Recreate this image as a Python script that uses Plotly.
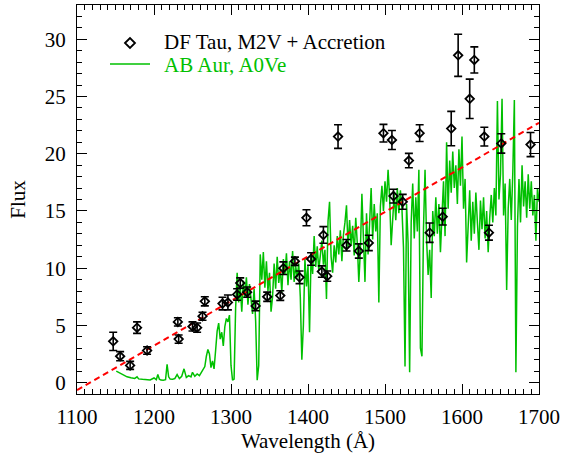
import numpy as np
import plotly.graph_objects as go

# DF Tau observed points
df_wave = [1147, 1156, 1169, 1178, 1191, 1231, 1232, 1250, 1256, 1263, 1266, 1289, 1296,
           1308, 1312, 1321, 1332, 1347, 1364, 1368, 1383, 1389, 1398, 1404, 1418, 1420,
           1425, 1439, 1450, 1466, 1479, 1498, 1509, 1511, 1523, 1531, 1545, 1558, 1575,
           1586, 1595, 1610, 1616, 1629, 1635, 1651, 1689]
df_flux = [3.6, 2.3, 1.5, 4.8, 2.8, 5.3, 3.8, 4.9, 4.8, 5.8, 7.1, 6.9, 7.0,
           7.7, 8.7, 7.9, 6.7, 7.5, 7.6, 10.0, 10.6, 9.2, 14.4, 10.8, 9.7, 12.9,
           9.3, 21.5, 12.0, 11.5, 12.2, 21.8, 21.2, 16.3, 15.8, 19.4, 21.8, 13.1, 14.5,
           22.2, 28.6, 24.8, 28.2, 21.5, 13.1, 20.9, 20.8]
df_err = [0.8, 0.4, 0.35, 0.5, 0.33, 0.36, 0.36, 0.4, 0.4, 0.35, 0.4, 0.55, 0.65,
          0.5, 0.45, 0.45, 0.42, 0.4, 0.42, 0.55, 0.36, 0.55, 0.7, 0.55, 0.5, 0.73,
          0.45, 1.03, 0.5, 0.62, 0.67, 0.77, 0.83, 0.6, 0.65, 0.63, 0.73, 0.85, 0.73,
          1.5, 1.84, 1.72, 1.14, 0.82, 0.65, 0.85, 1.05]

# AB Aur spectrum: smooth blue end
ab_wave_lo = [1151, 1155, 1160, 1165, 1170, 1175, 1178, 1180, 1185, 1190, 1195, 1200, 1203,
              1205, 1207, 1209, 1212, 1215, 1217, 1219, 1221, 1224, 1227, 1230, 1233, 1236,
              1239, 1242, 1245, 1248, 1250, 1253, 1256, 1259, 1261, 1263, 1266]
ab_flux_lo = [1.0, 0.85, 0.65, 0.5, 0.42, 0.36, 0.5, 0.32, 0.28, 0.25, 0.23, 0.4, 0.25,
              0.7, 0.3, 0.22, 0.2, 0.25, 1.6, 0.5, 0.3, 0.28, 0.35, 0.7, 0.35, 0.55,
              1.2, 0.45, 0.6, 0.5, 0.9, 0.55, 0.75, 0.6, 0.85, 1.0, 1.4]
# AB Aur spectrum: 2 A grid 1268-1700
ab_wave_hi = np.arange(1268, 1701, 2)
ab_flux_hi = [
    2.3, 2.9, 2.5, 1.3, 1.9, 1.2, 2.8, 4.5, 5.2, 3.8,
    4.4, 3.2, 4.9, 5.6, 5.3, 5.9, 1.5, 0.2, 0.3, 6.5,
    9.6, 7.0, 8.4, 6.2, 8.9, 7.4, 9.2, 6.8, 8.6, 7.1,
    6.0, 8.2, 5.4, 0.2, 1.5, 11.2, 9.0, 11.4, 8.3, 10.6,
    8.0, 9.6, 6.2, 7.5, 10.4, 8.2, 11.0, 8.7, 9.9, 7.9,
    10.8, 9.4, 11.3, 8.5, 10.6, 9.0, 11.5, 8.8, 10.2, 9.2,
    10.4, 7.5, 2.0, 5.0, 10.8, 8.4, 10.2, 4.4, 11.2, 9.5,
    12.8, 10.1, 11.9, 9.8, 11.0, 12.4, 10.3, 11.6, 7.3, 14.1,
    15.8, 11.0, 9.6, 12.0, 10.5, 12.8, 11.2, 13.3, 10.6, 12.9,
    14.0, 15.5, 11.8, 14.2, 12.0, 13.7, 11.1, 14.4, 12.2, 8.8,
    11.5, 16.5, 12.6, 8.8, 14.8, 11.2, 13.9, 17.0, 12.5, 15.6,
    13.2, 14.8, 7.0, 15.4, 17.2, 15.0, 17.6, 15.8, 18.6, 16.2,
    12.0, 14.0, 16.5, 14.2, 17.0, 14.8, 16.8, 15.2, 11.8, 1.4,
    15.6, 12.2, 0.9, 14.0, 17.4, 12.6, 16.2, 13.2, 18.6, 3.0,
    2.3, 13.5, 18.6, 12.5, 9.4, 11.6, 7.4, 15.0, 12.8, 16.2,
    13.0, 15.6, 11.4, 14.6, 17.6, 12.8, 21.0, 15.2, 19.4, 16.6,
    20.2, 17.0, 19.0, 15.6, 20.4, 17.2, 21.5, 15.2, 17.8, 10.5,
    14.6, 16.8, 12.4, 15.8, 13.0, 16.6, 14.0, 11.6, 15.9, 13.4,
    16.2, 12.6, 15.0, 11.4, 14.4, 16.4, 14.0, 17.0, 14.6, 24.6,
    16.0, 18.2, 24.8, 14.6, 17.4, 8.1, 15.2, 17.8, 14.2, 18.4,
    24.7, 0.9, 13.6, 17.8, 14.0, 19.0, 15.4, 17.6, 14.4, 18.2,
    15.2, 17.6, 14.6, 16.4, 12.4, 17.0, 15.8]

ab_wave = list(ab_wave_lo) + list(ab_wave_hi)
ab_flux = list(ab_flux_lo) + list(ab_flux_hi)

# linear fit (red dashed)
fit_wave = [1100, 1700]
fit_flux = [-0.66, 22.7]

legend_labels = ["DF Tau, M2V + Accretion", "AB Aur, A0Ve"]

GREEN = "rgb(0,192,0)"
FONT = "Liberation Serif, Times New Roman, DejaVu Serif, serif"

fig = go.Figure()
fig.add_trace(go.Scatter(
    x=ab_wave, y=ab_flux, mode="lines", showlegend=False,
    line=dict(color=GREEN, width=1.5),
))
fig.add_trace(go.Scatter(
    x=fit_wave, y=fit_flux, mode="lines", showlegend=False,
    line=dict(color="red", width=2, dash="6px,4px"),
))
fig.add_trace(go.Scatter(
    x=df_wave, y=df_flux, mode="markers", showlegend=False,
    marker=dict(symbol="diamond-open", size=6.5, color="black", line=dict(width=1.8, color="black")),
    error_y=dict(type="data", array=df_err, visible=True, color="black", thickness=1.6, width=4),
))

# custom legend (paper coordinates)
L, R, T, B = 77, 539, 5, 394
def px(xp):
    return (xp - L) / (R - L)
def py(yp):
    return (B - yp) / (B - T)

fig.add_shape(type="path", xref="paper", yref="paper",
              xsizemode="pixel", ysizemode="pixel",
              xanchor=px(130), yanchor=py(43),
              path="M -5 0 L 0 5 L 5 0 L 0 -5 Z",
              line=dict(color="black", width=1.8), fillcolor="rgba(0,0,0,0)")
fig.add_shape(type="line", xref="paper", yref="paper",
              x0=px(110), x1=px(150), y0=py(64), y1=py(64),
              line=dict(color=GREEN, width=1.5))
fig.add_annotation(text=legend_labels[0], xref="paper", yref="paper",
                   x=px(162), y=py(42), xanchor="left", yanchor="middle", showarrow=False,
                   font=dict(family=FONT, size=21, color="black"))
fig.add_annotation(text=legend_labels[1], xref="paper", yref="paper",
                   x=px(162), y=py(65), xanchor="left", yanchor="middle", showarrow=False,
                   font=dict(family=FONT, size=21, color=GREEN))

axis_common = dict(
    showline=True, linecolor="black", linewidth=1.2, mirror="allticks",
    ticks="inside", tickcolor="black", tickwidth=1.2, ticklen=10,
    showgrid=False, zeroline=False, automargin=False,
    tickfont=dict(family=FONT, size=21, color="black"),
)
fig.update_xaxes(
    range=[1100, 1700], dtick=100, tick0=1100,
    minor=dict(ticks="inside", ticklen=5, dtick=10, tickcolor="black", tickwidth=1),
    title=dict(text="Wavelength (Å)", font=dict(family=FONT, size=21, color="black"), standoff=2),
    ticklabelstandoff=4,
    **axis_common,
)
fig.update_yaxes(
    range=[-1, 33], dtick=5, tick0=0,
    minor=dict(ticks="inside", ticklen=5, dtick=1, tickcolor="black", tickwidth=1),
    title=dict(text="Flux", font=dict(family=FONT, size=21, color="black"), standoff=13),
    ticklabelstandoff=6,
    **axis_common,
)
fig.update_layout(
    width=574, height=455,
    margin=dict(l=L, r=574 - R, t=T, b=455 - B),
    paper_bgcolor="white", plot_bgcolor="white",
    font=dict(family=FONT, size=21, color="black"),
    showlegend=False,
)
fig.write_html("out.html", config={"displayModeBar": False},
               post_script="document.body.style.margin='0px';document.body.style.padding='0px';")
